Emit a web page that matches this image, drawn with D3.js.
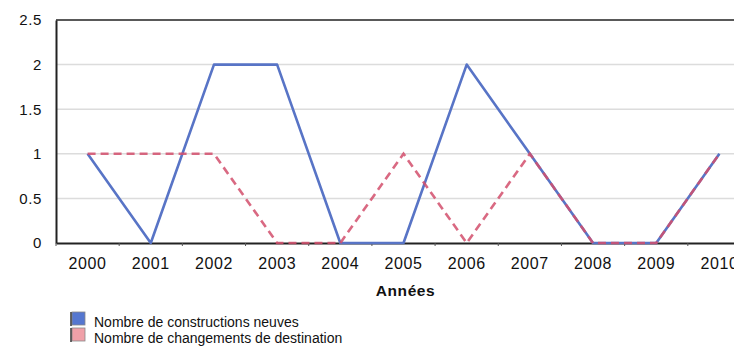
<!DOCTYPE html>
<html>
<head>
<meta charset="utf-8">
<script src="https://cdn.jsdelivr.net/npm/d3@7"></script>
<style>
  html, body { margin: 0; padding: 0; background: #fff; }
  svg { display: block; font-family: "Liberation Sans", Arial, sans-serif; }
</style>
</head>
<body>
<svg id="chart" width="734" height="352"></svg>
<script>
// Yearly counts, 2000–2010
const years = ["2000","2001","2002","2003","2004","2005","2006","2007","2008","2009","2010"];
const constructionsNeuves = [1, 0, 2, 2, 0, 0, 2, 1, 0, 0, 1];
const changementsDestination = [1, 1, 1, 0, 0, 1, 0, 1, 0, 0, 1];
const yTicks = [0, 0.5, 1, 1.5, 2, 2.5];
const seriesNames = ["Nombre de constructions neuves", "Nombre de changements de destination"];
const seriesColors = ["#5874c6", "#d24f6c"];
const legendFills = ["#5577d0", "#f0a0a8"];

const svg = d3.select("#chart");
const plotLeft = 56, plotRight = 751, plotTop = 20, plotBottom = 243;

const x = d3.scaleBand().domain(years).range([plotLeft, plotRight]);
const y = d3.scaleLinear().domain([0, 2.5]).range([plotBottom, plotTop]);

// horizontal grid lines
svg.append("g")
  .selectAll("line")
  .data(yTicks.filter(t => t > 0 && t < 2.5))
  .join("line")
  .attr("x1", plotLeft).attr("x2", 734)
  .attr("y1", d => y(d)).attr("y2", d => y(d))
  .attr("stroke", "#dcdcdc").attr("stroke-width", 1.5);

// frame: top border
svg.append("line")
  .attr("x1", plotLeft).attr("x2", 734)
  .attr("y1", y(2.5)).attr("y2", y(2.5))
  .attr("stroke", "#222").attr("stroke-width", 1.5);

// y axis
const yAxis = svg.append("g")
  .attr("transform", `translate(${plotLeft},0)`)
  .call(d3.axisLeft(y).tickValues(yTicks).tickSize(0).tickPadding(14)
        .tickFormat(d => String(d)));
yAxis.select(".domain").attr("stroke", "#222").attr("stroke-width", 2);
yAxis.selectAll("text")
  .attr("font-size", 15).attr("letter-spacing", "0.6px").attr("fill", "#111");

// x axis
const xAxis = svg.append("g")
  .attr("transform", `translate(0,${plotBottom})`)
  .call(d3.axisBottom(x).tickSize(0).tickPadding(15));
xAxis.select(".domain").attr("stroke", "#222").attr("stroke-width", 2);
xAxis.selectAll("text")
  .attr("font-size", 16).attr("letter-spacing", "0.6px").attr("fill", "#111");

// small tick marks at band boundaries
svg.append("g")
  .selectAll("line")
  .data(years)
  .join("line")
  .attr("x1", d => x(d)).attr("x2", d => x(d))
  .attr("y1", plotBottom).attr("y2", plotBottom + 3)
  .attr("stroke", "#555").attr("stroke-width", 1);

// axis title
svg.append("text")
  .attr("x", x("2005") + x.bandwidth() / 2 + 2)
  .attr("y", 296)
  .attr("text-anchor", "middle")
  .attr("font-size", 15.5).attr("font-weight", "bold")
  .attr("letter-spacing", "0.6px").attr("fill", "#111")
  .text("Années");

const line = d3.line()
  .x((d, i) => x(years[i]) + x.bandwidth() / 2)
  .y(d => y(d));

svg.append("path")
  .datum(constructionsNeuves)
  .attr("d", line)
  .attr("fill", "none")
  .attr("stroke", seriesColors[0]).attr("stroke-width", 2.6)
  .attr("stroke-linejoin", "round");

svg.append("path")
  .datum(changementsDestination)
  .attr("d", line)
  .attr("fill", "none")
  .attr("stroke", seriesColors[1]).attr("stroke-width", 2.6)
  .attr("stroke-dasharray", "8,5")
  .attr("stroke-opacity", 0.85);

// legend
const legend = svg.append("g");
seriesNames.forEach((name, i) => {
  const g = legend.append("g").attr("transform", `translate(72,${312 + i * 16})`);
  g.append("rect")
    .attr("width", 13).attr("height", 13)
    .attr("fill", legendFills[i])
    .attr("stroke", "#888").attr("stroke-width", 0.8);
  g.append("line")
    .attr("x1", -1).attr("x2", -1).attr("y1", 0).attr("y2", 14)
    .attr("stroke", "#333").attr("stroke-width", 1.5);
  g.append("text")
    .attr("x", 22).attr("y", 14.5)
    .attr("font-size", 14).attr("fill", "#111")
    .text(name);
});
</script>
</body>
</html>
